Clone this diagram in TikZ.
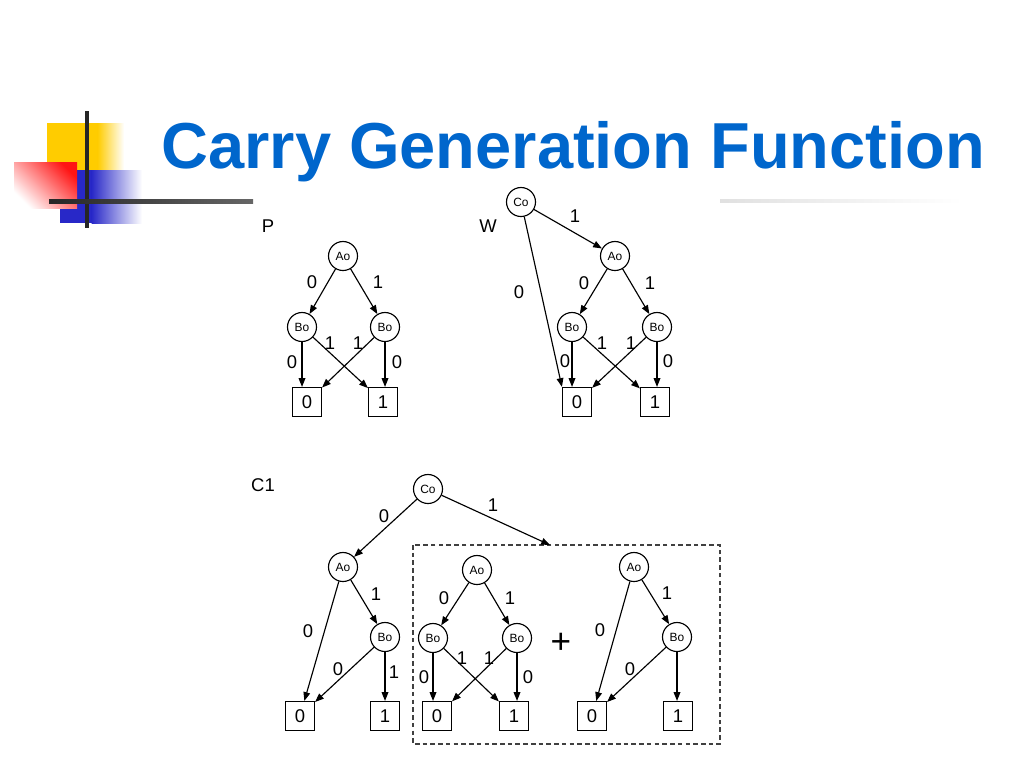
\documentclass[tikz,border=0pt]{standalone}
\usepackage{fontspec}
\setmainfont{Liberation Sans}
\usetikzlibrary{arrows.meta}
\definecolor{titleblue}{RGB}{0,102,204}
\definecolor{decoyellow}{RGB}{255,204,0}
\definecolor{decoblue}{RGB}{40,40,200}
\definecolor{decored}{RGB}{255,20,20}
\tikzset{
  var/.style={circle, draw, line width=0.65pt, minimum size=0.58cm, inner sep=0pt, font=\fontsize{6.8}{7}\selectfont},
  leaf/.style={rectangle, draw, line width=0.65pt, minimum width=0.58cm, minimum height=0.58cm, inner sep=0pt, font=\fontsize{10.5}{12}\selectfont},
  arr/.style={-{Triangle[length=5pt,width=3.8pt]}, line width=0.65pt},
  lbl/.style={font=\fontsize{10.5}{12}\selectfont, inner sep=0pt},
  tag/.style={font=\fontsize{10.5}{12}\selectfont, inner sep=0pt},
  groupbox/.style={draw=black!75, line width=0.7pt, dash pattern=on 2.6pt off 1.8pt}
}
\begin{document}
\begin{tikzpicture}[x=0.02cm, y=-0.02cm]
\useasboundingbox (0,0) rectangle (1024,768);
% slide decoration
\fill[decoyellow] (47,123) rectangle (98,170);
\shade[left color=decoyellow, right color=white] (97.5,123) rectangle (124,170);
\fill[decoblue] (60,170) rectangle (92,223);
\shade[left color=decoblue, right color=white] (91.5,170) rectangle (142,223);
\shade[top color=decored, bottom color=white, shading angle=-45] (14,162) rectangle (77,208);
\draw[line width=2.4pt, black!85] (87,111) -- (87,228);
\shade[left color=black!85, right color=black!60] (49,199) rectangle (253,203);
\shade[left color=black!12, right color=white] (720,199.5) rectangle (962,202.5);
\node[anchor=base west, font=\fontsize{37}{40}\selectfont\bfseries, text=titleblue, inner sep=0pt] (title) at (161,168) {Carry Generation Function};

% P
\node[tag] (pname) at (268,226) {P};
\node[var] (pA) at (343,256) {Ao};
\node[var] (pB1) at (302,327) {Bo};
\node[var] (pB2) at (385,327) {Bo};
\node[leaf] (p0) at (307,402) {0};
\node[leaf] (p1) at (383,402) {1};

% W
\node[tag] (wname) at (488,226) {W};
\node[var] (wC) at (521,202) {Co};
\node[var] (wA) at (615,256) {Ao};
\node[var] (wB1) at (572,327) {Bo};
\node[var] (wB2) at (657,327) {Bo};
\node[leaf] (w0) at (577,402) {0};
\node[leaf] (w1) at (655,402) {1};

% C1
\node[tag] (cname) at (263,485) {C1};
\node[var] (cC) at (428,489) {Co};
\node[var] (cA) at (343,567) {Ao};
\node[var] (cB) at (385,637) {Bo};
\node[leaf] (c0) at (300,716) {0};
\node[leaf] (c1) at (385,716) {1};
\coordinate (cT) at (550,545);
\draw[groupbox] (413,545) rectangle (720,744);
\node[var] (dA) at (477,570) {Ao};
\node[var] (dB1) at (433,638) {Bo};
\node[var] (dB2) at (517,638) {Bo};
\node[leaf] (d0) at (437,716) {0};
\node[leaf] (d1) at (514,716) {1};
\node[font=\fontsize{20}{20}\selectfont, inner sep=0pt] (plus) at (561,643) {+};
\node[var] (eA) at (634,567) {Ao};
\node[var] (eB) at (677,637) {Bo};
\node[leaf] (e0) at (592,716) {0};
\node[leaf] (e1) at (678,716) {1};

\foreach \a/\b in {pA/pB1, pA/pB2, pB1/p1, pB2/p0, wC/wA, wA/wB1, wA/wB2, wB1/w1, wB2/w0,
    cC/cA, cA/c0, cA/cB, cB/c0, dA/dB1, dA/dB2, dB1/d1, dB2/d0, eA/e0, eA/eB, eB/e0}
  \draw[arr] (\a) -- (\b);
\foreach \a/\b in {pB1/p0, pB2/p1, wB1/w0, wB2/w1, cB/c1, dB1/d0, dB2/d1, eB/e1}
  \draw[arr] (\a) -- (\a |- \b.north);
\draw[arr] (wC) -- (w0.north west);
\draw[arr] (cC) -- (cT);

\foreach \x/\y/\t [count=\i] in {312/282/0, 378/282/1, 292/362/0, 330/343/1, 358/343/1, 397/362/0,
    575/216/1, 519/292/0, 584/283/0, 650/283/1, 565/361/0, 602/343/1, 631/343/1, 668/361/0,
    493/505/1, 384/516/0, 376/594/1, 308/631/0, 338/669/0, 394/672/1,
    444/598/0, 510/598/1, 424/677/0, 462/658/1, 489/658/1, 528/677/0,
    667/593/1, 600/630/0, 630/669/0}
  \node[lbl] (lab\i) at (\x,\y) {\t};
\end{tikzpicture}
\end{document}
